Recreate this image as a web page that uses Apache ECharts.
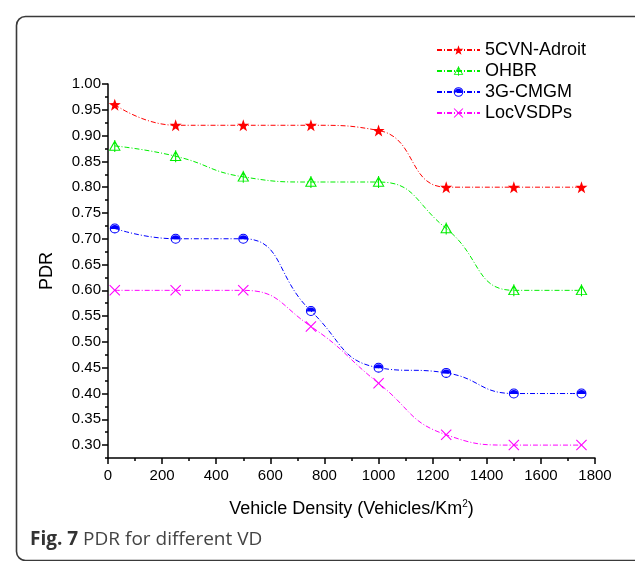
<html>
<head>
    <meta charset='utf-8' />
    <script src="https://cdn.jsdelivr.net/npm/echarts@6/dist/echarts.min.js"></script>
    <title>PDR for different VD</title>
    <style>
        body { margin: 0; background: #fff; }
        #chart { width: 635px; height: 561px; }
    </style>
</head>
<body>
    <div id="chart"></div>
    <script type="text/javascript">
        var density = [25, 250, 500, 750, 1000, 1250, 1500, 1750];
        var adroit = [0.96, 0.92, 0.92, 0.92, 0.91, 0.80, 0.80, 0.80];
        var ohbr = [0.88, 0.86, 0.82, 0.81, 0.81, 0.72, 0.60, 0.60];
        var cmgm = [0.72, 0.70, 0.70, 0.56, 0.45, 0.44, 0.40, 0.40];
        var locv = [0.60, 0.60, 0.60, 0.53, 0.42, 0.32, 0.30, 0.30];
        var seriesNames = ['5CVN-Adroit', 'OHBR', '3G-CMGM', 'LocVSDPs'];
        var yTicks = [0.30, 0.35, 0.40, 0.45, 0.50, 0.55, 0.60, 0.65, 0.70, 0.75, 0.80, 0.85, 0.90, 0.95, 1.00];
        var yMinorTicks = [0.275, 0.325, 0.375, 0.425, 0.475, 0.525, 0.575, 0.625, 0.675, 0.725, 0.775, 0.825, 0.875, 0.925, 0.975];

        // marker shapes (20x20 boxes)
        var starPath = 'path://M10 0 L12.35 6.76 L19.51 6.91 L13.8 11.24 L15.88 18.09 L10 14 L4.12 18.09 L6.2 11.24 L0.49 6.91 L7.65 6.76 Z';
        var triPath = 'path://M10 1 L19 18 L1 18 Z M10 5.2 L3.6 16.5 L16.4 16.5 Z M9.2 1 L10.8 1 L10.8 20 L9.2 20 Z';
        var halfCirclePath = 'path://M0 10 A10 10 0 1 1 20 10 A10 10 0 1 1 0 10 Z M2.2 10 A7.8 7.8 0 1 0 17.8 10 A7.8 7.8 0 1 0 2.2 10 Z M2 11 L18 11 A8 8 0 0 0 2 11 Z';
        var crossPath = 'path://M0 1.4 L1.4 0 L10 8.6 L18.6 0 L20 1.4 L11.4 10 L20 18.6 L18.6 20 L10 11.4 L1.4 20 L0 18.6 L8.6 10 Z';

        var font = 'Liberation Sans';
        var dashDot = [5, 2, 1, 2];

        function pairs(vals) {
            return density.map(function (d, i) { return [d, vals[i]]; });
        }

        function makeSeries(name, vals, color, symbol, size) {
            return {
                name: name,
                type: 'line',
                smooth: 0.5,
                data: pairs(vals),
                symbol: symbol,
                symbolSize: size,
                itemStyle: { color: color },
                lineStyle: { color: color, width: 1, type: dashDot },
                emphasis: { disabled: true }
            };
        }

        var chart = echarts.init(document.getElementById('chart'));
        var option = {
            animation: false,
            backgroundColor: '#fff',
            textStyle: { fontFamily: font },
            grid: { left: 108, right: 40, top: 84, bottom: 103 },
            legend: {
                orient: 'vertical',
                left: 431,
                top: 36,
                itemWidth: 43,
                itemHeight: 12,
                itemGap: 3,
                textStyle: { fontFamily: font, fontSize: 18, color: '#000' },
                data: seriesNames
            },
            xAxis: {
                type: 'value',
                min: 0,
                max: 1800,
                interval: 200,
                name: 'Vehicle Density (Vehicles/Km{sup|2})',
                nameLocation: 'middle',
                nameGap: 41,
                nameTextStyle: {
                    fontFamily: font, fontSize: 18, color: '#000',
                    rich: { sup: { fontFamily: font, fontSize: 10, verticalAlign: 'top', padding: [0, 0, 10, 0], color: '#000' } }
                },
                axisLine: { lineStyle: { color: '#000', width: 1.5 } },
                axisTick: { length: 6, lineStyle: { color: '#000', width: 1.5 } },
                minorTick: { show: true, splitNumber: 2, length: 3, lineStyle: { color: '#000', width: 1.5 } },
                axisLabel: {
                    fontFamily: font, fontSize: 15, color: '#000', margin: 10,
                    formatter: function (v) { return String(v); }
                },
                splitLine: { show: false }
            },
            yAxis: [{
                type: 'value',
                min: 0.275,
                max: 1.0,
                name: 'PDR',
                nameLocation: 'middle',
                nameGap: 52,
                nameTextStyle: { fontFamily: font, fontSize: 18, color: '#000' },
                axisLine: { show: true, lineStyle: { color: '#000', width: 1.5 } },
                axisTick: { show: true, length: 6, customValues: yTicks, lineStyle: { color: '#000', width: 1.5 } },
                axisLabel: {
                    fontFamily: font, fontSize: 15, color: '#000', margin: 7,
                    customValues: yTicks,
                    formatter: function (v) { return v.toFixed(2); }
                },
                splitLine: { show: false }
            }, {
                type: 'value',
                position: 'left',
                min: 0.275,
                max: 1.0,
                axisLine: { show: false },
                axisTick: { show: true, length: 3, customValues: yMinorTicks, lineStyle: { color: '#000', width: 1.5 } },
                axisLabel: { show: false },
                splitLine: { show: false }
            }],
            graphic: [{
                type: 'rect',
                left: 14,
                top: 14,
                shape: { width: 660, height: 544, r: 9 },
                style: { fill: 'none', stroke: '#3a3a3a', lineWidth: 1.6 },
                silent: true
            }, {
                type: 'text',
                left: 30,
                top: 530,
                style: {
                    text: '{b|Fig. 7} PDR for different VD',
                    font: '19px "Open Sans"',
                    fill: '#444',
                    rich: { b: { fontFamily: 'Open Sans', fontWeight: 'bold', fontSize: 19, fill: '#333' } }
                }
            }],
            series: [
                makeSeries(seriesNames[0], adroit, '#ff0000', starPath, 12),
                makeSeries(seriesNames[1], ohbr, '#00ee00', triPath, 12),
                makeSeries(seriesNames[2], cmgm, '#0000ff', halfCirclePath, 10),
                makeSeries(seriesNames[3], locv, '#ff00ff', crossPath, 11)
            ]
        };
        chart.setOption(option);
    </script>
</body>
</html>
